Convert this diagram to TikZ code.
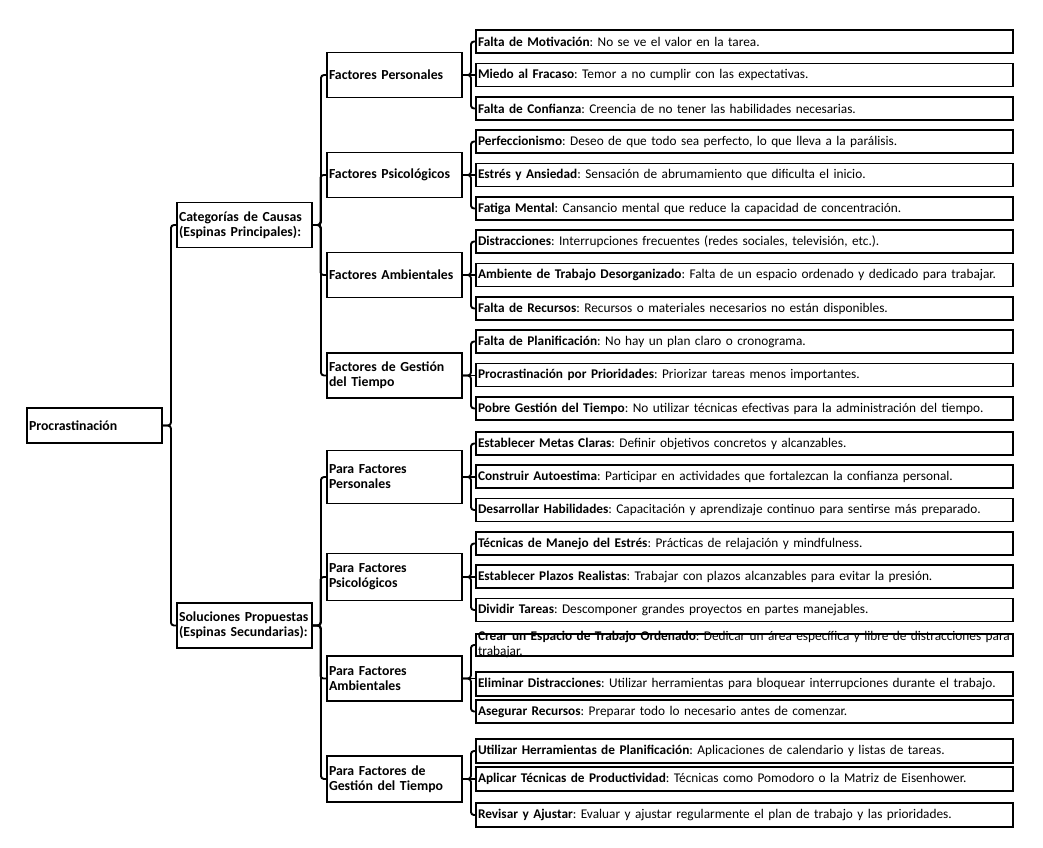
\documentclass[tikz,border=0pt]{standalone}
\usepackage{fontspec}
\setmainfont{Carlito}
\frenchspacing
\begin{document}
\begin{tikzpicture}[x=1pt,y=-1pt,
  every node/.style={font=\fontsize{13.3}{15}\selectfont, inner xsep=2pt, inner ysep=0pt},
  box/.style={draw, line width=1.9pt, align=left, text width=#1-4pt},
  hbox/.style={box=135pt, font=\fontsize{13.8}{15}\selectfont\bfseries},
  leaf/.style={box=537pt, minimum height=23pt},
  conn/.style={draw, line width=1.9pt, rounded corners=3pt}]
\useasboundingbox (0,0) rectangle (1043,847);
% root and first level
\node[hbox, minimum height=35pt] (root) at (94.5,425.5) {Procrastinación};
\node[hbox, minimum height=45pt] (cat) at (244.5,225) {Categorías de Causas\\(Espinas Principales):};
\node[hbox, minimum height=45pt] (sol) at (244.5,625.5) {Soluciones Propuestas\\(Espinas Secundarias):};
% second level
\node[hbox, minimum height=45pt] (fp) at (394.5,75) {Factores Personales};
\node[hbox, minimum height=45pt] (fs) at (394.5,175) {Factores Psicológicos};
\node[hbox, minimum height=45pt] (fa) at (394.5,275) {Factores Ambientales};
\node[hbox, minimum height=45pt] (fg) at (394.5,375.5) {Factores de Gestión\\del Tiempo};
\node[hbox, minimum height=53pt] (sp) at (394.5,477) {Para Factores\\Personales};
\node[hbox, minimum height=47pt] (ss) at (394.5,577) {Para Factores\\Psicológicos};
\node[hbox, minimum height=45pt] (sa) at (394.5,678.5) {Para Factores\\Ambientales};
\node[hbox, minimum height=46pt] (sg) at (394.5,779) {Para Factores de\\Gestión del Tiempo};
% leaves
\node[leaf] (l1) at (744.5,41.5) {\textbf{Falta de Motivación}: No se ve el valor en la tarea.};
\node[leaf] (l2) at (744.5,75) {\textbf{Miedo al Fracaso}: Temor a no cumplir con las expectativas.};
\node[leaf] (l3) at (744.5,108.5) {\textbf{Falta de Confianza}: Creencia de no tener las habilidades necesarias.};
\node[leaf] (l4) at (744.5,141.5) {\textbf{Perfeccionismo}: Deseo de que todo sea perfecto, lo que lleva a la parálisis.};
\node[leaf] (l5) at (744.5,175) {\textbf{Estrés y Ansiedad}: Sensación de abrumamiento que dificulta el inicio.};
\node[leaf] (l6) at (744.5,208.5) {\textbf{Fatiga Mental}: Cansancio mental que reduce la capacidad de concentración.};
\node[leaf] (l7) at (744.5,241.5) {\textbf{Distracciones}: Interrupciones frecuentes (redes sociales, televisión, etc.).};
\node[leaf] (l8) at (744.5,275) {\textbf{Ambiente de Trabajo Desorganizado}: Falta de un espacio ordenado y dedicado para trabajar.};
\node[leaf] (l9) at (744.5,308.5) {\textbf{Falta de Recursos}: Recursos o materiales necesarios no están disponibles.};
\node[leaf] (l10) at (744.5,341.5) {\textbf{Falta de Planificación}: No hay un plan claro o cronograma.};
\node[leaf] (l11) at (744.5,375) {\textbf{Procrastinación por Prioridades}: Priorizar tareas menos importantes.};
\node[leaf] (l12) at (744.5,408.5) {\textbf{Pobre Gestión del Tiempo}: No utilizar técnicas efectivas para la administración del tiempo.};
\node[leaf] (l13) at (744.5,443.5) {\textbf{Establecer Metas Claras}: Definir objetivos concretos y alcanzables.};
\node[leaf] (l14) at (744.5,476.5) {\textbf{Construir Autoestima}: Participar en actividades que fortalezcan la confianza personal.};
\node[leaf] (l15) at (744.5,510) {\textbf{Desarrollar Habilidades}: Capacitación y aprendizaje continuo para sentirse más preparado.};
\node[leaf] (l16) at (744.5,543.5) {\textbf{Técnicas de Manejo del Estrés}: Prácticas de relajación y mindfulness.};
\node[leaf] (l17) at (744.5,576.5) {\textbf{Establecer Plazos Realistas}: Trabajar con plazos alcanzables para evitar la presión.};
\node[leaf] (l18) at (744.5,610) {\textbf{Dividir Tareas}: Descomponer grandes proyectos en partes manejables.};
\node[leaf, minimum height=22pt] (l19) at (744.5,645) {\raisebox{-7pt}{\smash{\begin{tabular}[c]{@{}l@{}}\textbf{Crear un Espacio de Trabajo Ordenado}: Dedicar un área específica y libre de distracciones para\\trabajar.\end{tabular}}}};
\node[leaf, minimum height=24pt] (l20) at (744.5,684) {\textbf{Eliminar Distracciones}: Utilizar herramientas para bloquear interrupciones durante el trabajo.};
\node[leaf] (l21) at (744.5,711.5) {\textbf{Asegurar Recursos}: Preparar todo lo necesario antes de comenzar.};
\node[leaf, minimum height=24pt] (l22) at (744.5,751) {\textbf{Utilizar Herramientas de Planificación}: Aplicaciones de calendario y listas de tareas.};
\node[leaf, minimum height=24pt] (l23) at (744.5,779) {\textbf{Aplicar Técnicas de Productividad}: Técnicas como Pomodoro o la Matriz de Eisenhower.};
\node[leaf, minimum height=24pt] (l24) at (744.5,815) {\textbf{Revisar y Ajustar}: Evaluar y ajustar regularmente el plan de trabajo y las prioridades.};
% connectors
\foreach \a/\b in {root/cat, root/sol, cat/fp, cat/fg, sol/sp, sol/sg,
  fp/l1, fp/l3, fs/l4, fs/l6, fa/l7, fa/l9, fg/l10, fg/l12,
  sp/l13, sp/l15, ss/l16, ss/l18, sa/l19, sa/l21, sg/l22, sg/l24}
  \draw[conn] (\a.east) -- ++(8,0) |- (\b.west);
\foreach \a/\b in {cat/fs, cat/fa, sol/ss, sol/sa}
  \draw[conn] (\a.east) -- ++(7.5,0) |- (\b.west);
\foreach \a/\b in {fp/l2, fs/l5, fa/l8, fg/l11, sp/l14, ss/l17, sa/l20, sg/l23}
  \draw[conn] (\a.east) -- (\a.east -| \b.west);
\end{tikzpicture}
\end{document}
